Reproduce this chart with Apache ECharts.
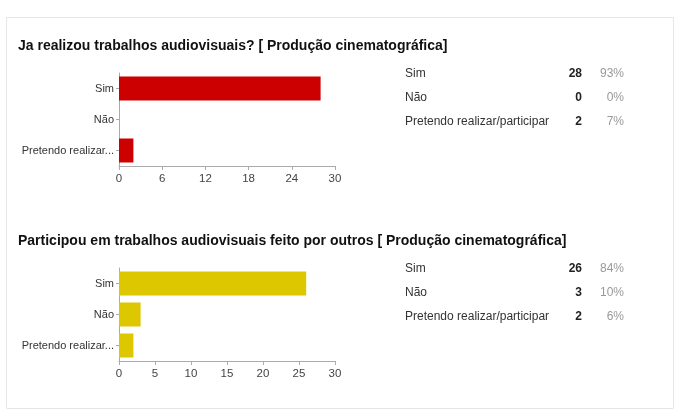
<!DOCTYPE html>
<html><head><meta charset="utf-8">
<script src="https://cdn.jsdelivr.net/npm/echarts@6/dist/echarts.min.js"></script>
<style>html,body{margin:0;padding:0;background:#fff}#c{width:679px;height:415px}</style>
</head><body><div id="c"></div>
<script>
const categories = ['Sim', 'Não', 'Pretendo realizar/participar'];
const axisLabels = ['Sim', 'Não', 'Pretendo realizar...'];
const title1 = 'Ja realizou trabalhos audiovisuais? [ Produção cinematográfica]';
const title2 = 'Participou em trabalhos audiovisuais feito por outros [ Produção cinematográfica]';
const values1 = [28, 0, 2];
const values2 = [26, 3, 2];
const pct1 = ['93%', '0%', '7%'];
const pct2 = ['84%', '10%', '6%'];

const chart = echarts.init(document.getElementById('c'), null, {renderer: 'canvas'});
const FONT = '"Liberation Sans", Arial, sans-serif';

function xAxis(gi, interval) {
  return {
    type: 'value', gridIndex: gi, min: 0, max: 30, interval: interval,
    axisLine: {show: true, lineStyle: {color: '#aaa'}},
    axisTick: {show: true, length: 4, lineStyle: {color: '#aaa'}},
    axisLabel: {color: '#444', fontSize: 11.5, fontFamily: FONT, margin: 7},
    splitLine: {show: false}
  };
}
function yAxis(gi) {
  return {
    type: 'category', gridIndex: gi, data: axisLabels, inverse: true,
    axisLine: {show: true, lineStyle: {color: '#aaa'}},
    axisTick: {show: true, alignWithLabel: true, length: 3, lineStyle: {color: '#aaa'}},
    axisLabel: {color: '#333', fontSize: 11, fontFamily: FONT, margin: 5}
  };
}
const graphics = [
  {type: 'rect', shape: {x: 6.5, y: 17.5, width: 667, height: 391}, style: {fill: 'none', stroke: '#e6e6e6', lineWidth: 1}},
  {type: 'text', left: 18, top: 39, style: {text: title1, font: 'bold 14px ' + FONT, fill: '#111'}},
  {type: 'text', left: 18, top: 234, style: {text: title2, font: 'bold 14px ' + FONT, fill: '#111'}}
];
function table(y0, vals, pcts) {
  categories.forEach((c, i) => {
    const y = y0 + i * 24;
    graphics.push({type: 'text', x: 405, y: y, style: {text: c, font: '12px ' + FONT, fill: '#333', textVerticalAlign: 'middle'}});
    graphics.push({type: 'text', x: 582, y: y, style: {text: String(vals[i]), font: 'bold 12px ' + FONT, fill: '#222', textAlign: 'right', textVerticalAlign: 'middle'}});
    graphics.push({type: 'text', x: 624, y: y, style: {text: pcts[i], font: '12px ' + FONT, fill: '#999', textAlign: 'right', textVerticalAlign: 'middle'}});
  });
}
table(74, values1, pct1);
table(269, values2, pct2);

chart.setOption({
  animation: false,
  grid: [
    {left: 119, top: 73, width: 216, height: 93},
    {left: 119, top: 268, width: 216, height: 93}
  ],
  xAxis: [xAxis(0, 6), xAxis(1, 5)],
  yAxis: [yAxis(0), yAxis(1)],
  series: [
    {type: 'bar', xAxisIndex: 0, yAxisIndex: 0, data: values1, barWidth: 24, itemStyle: {color: '#cc0000'}},
    {type: 'bar', xAxisIndex: 1, yAxisIndex: 1, data: values2, barWidth: 24, itemStyle: {color: '#dcc700'}}
  ],
  graphic: graphics
});
</script></body></html>
